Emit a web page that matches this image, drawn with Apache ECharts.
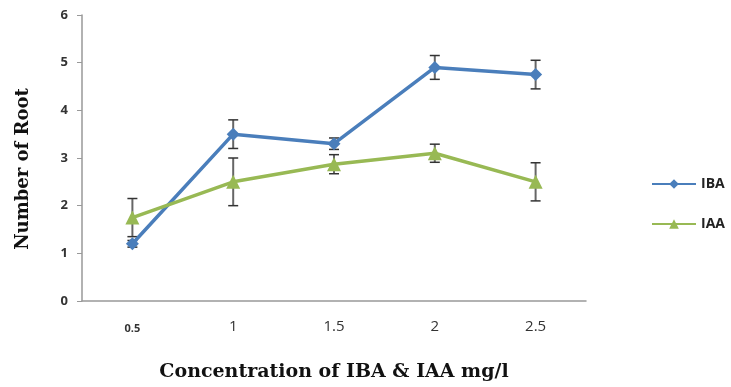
<!DOCTYPE html>
<html>
<head>
<meta charset="utf-8">
<script src="https://cdn.jsdelivr.net/npm/echarts@6/dist/echarts.min.js"></script>
<style>
  html, body { margin: 0; padding: 0; background: #fff; }
  #chart_box { width: 731px; height: 387px; }
</style>
</head>
<body>
<div id="chart_box"></div>
<script>
// data
var categories = ["0.5", "1", "1.5", "2", "2.5"];
var ibaValues = [1.2, 3.5, 3.3, 4.9, 4.75];
var ibaErrors = [0.07, 0.3, 0.12, 0.25, 0.3];
var iaaValues = [1.75, 2.5, 2.87, 3.1, 2.5];
var iaaErrors = [0.4, 0.5, 0.2, 0.19, 0.4];
var yTicks = [0, 1, 2, 3, 4, 5, 6];

var chart = echarts.init(document.getElementById("chart_box"));

// error bar items: [category index, low, high]
function errorData(values, errors) {
  return values.map(function (v, i) {
    return [i, v - errors[i], v + errors[i]];
  });
}

function renderErrorBar(params, api) {
  var low = api.coord([api.value(0), api.value(1)]);
  var high = api.coord([api.value(0), api.value(2)]);
  var cap = 5;
  var style = { stroke: "#333", lineWidth: 1.5 };
  return {
    type: "group",
    children: [
      { type: "line", shape: { x1: high[0], y1: high[1], x2: low[0], y2: low[1] }, style: { stroke: "#666", lineWidth: 2 } },
      { type: "line", shape: { x1: high[0] - cap, y1: high[1], x2: high[0] + cap, y2: high[1] }, style: style },
      { type: "line", shape: { x1: low[0] - cap, y1: low[1], x2: low[0] + cap, y2: low[1] }, style: style }
    ]
  };
}

var option = {
  animation: false,
  grid: { left: 82, right: 145, top: 15, bottom: 85 },
  legend: {
    orient: "vertical",
    left: 646,
    top: 172,
    itemGap: 26,
    itemWidth: 44,
    itemHeight: 12,
    textStyle: { fontFamily: "Open Sans", fontWeight: "bold", fontSize: 14, color: "#222" },
    data: ["IBA", "IAA"]
  },
  xAxis: {
    type: "category",
    data: categories,
    boundaryGap: true,
    name: "Concentration of IBA & IAA mg/l",
    nameLocation: "middle",
    nameGap: 62,
    nameTextStyle: { fontFamily: "DejaVu Serif", fontWeight: "bold", fontSize: 19, color: "#111" },
    axisLine: { lineStyle: { color: "#999", width: 1.5 } },
    axisTick: { show: false },
    axisLabel: {
      margin: 18,
      color: "#333",
      fontFamily: "Open Sans",
      fontSize: 15,
      formatter: function (v, i) { return i === 0 ? "{s|" + v + "}" : v; },
      rich: { s: { fontSize: 11, fontFamily: "Open Sans", fontWeight: "bold", color: "#333", padding: [4, 0, 0, 0] } }
    }
  },
  yAxis: {
    type: "value",
    min: yTicks[0],
    max: yTicks[yTicks.length - 1],
    interval: 1,
    name: "Number of Root",
    nameLocation: "middle",
    nameGap: 50,
    nameTextStyle: { fontFamily: "DejaVu Serif", fontWeight: "bold", fontSize: 18, color: "#111", padding: [0, 22, 0, 0] },
    axisLine: { show: true, lineStyle: { color: "#999", width: 1.5 } },
    axisTick: { show: true, length: 5, lineStyle: { color: "#999" } },
    splitLine: { show: false },
    axisLabel: { margin: 14, color: "#333", fontFamily: "Open Sans", fontWeight: "bold", fontSize: 13 }
  },
  series: [
    {
      type: "custom",
      renderItem: renderErrorBar,
      data: errorData(ibaValues, ibaErrors),
      encode: { x: 0, y: [1, 2] },
      z: 1,
      silent: true
    },
    {
      type: "custom",
      renderItem: renderErrorBar,
      data: errorData(iaaValues, iaaErrors),
      encode: { x: 0, y: [1, 2] },
      z: 1,
      silent: true
    },
    {
      name: "IBA",
      type: "line",
      data: ibaValues,
      symbol: "diamond",
      symbolSize: 13,
      lineStyle: { color: "#4a7ebb", width: 3.5 },
      itemStyle: { color: "#4a7ebb" },
      z: 3
    },
    {
      name: "IAA",
      type: "line",
      data: iaaValues,
      symbol: "triangle",
      symbolSize: 14,
      lineStyle: { color: "#98b954", width: 3.5 },
      itemStyle: { color: "#98b954" },
      z: 3
    }
  ]
};

chart.setOption(option);
</script>
</body>
</html>
